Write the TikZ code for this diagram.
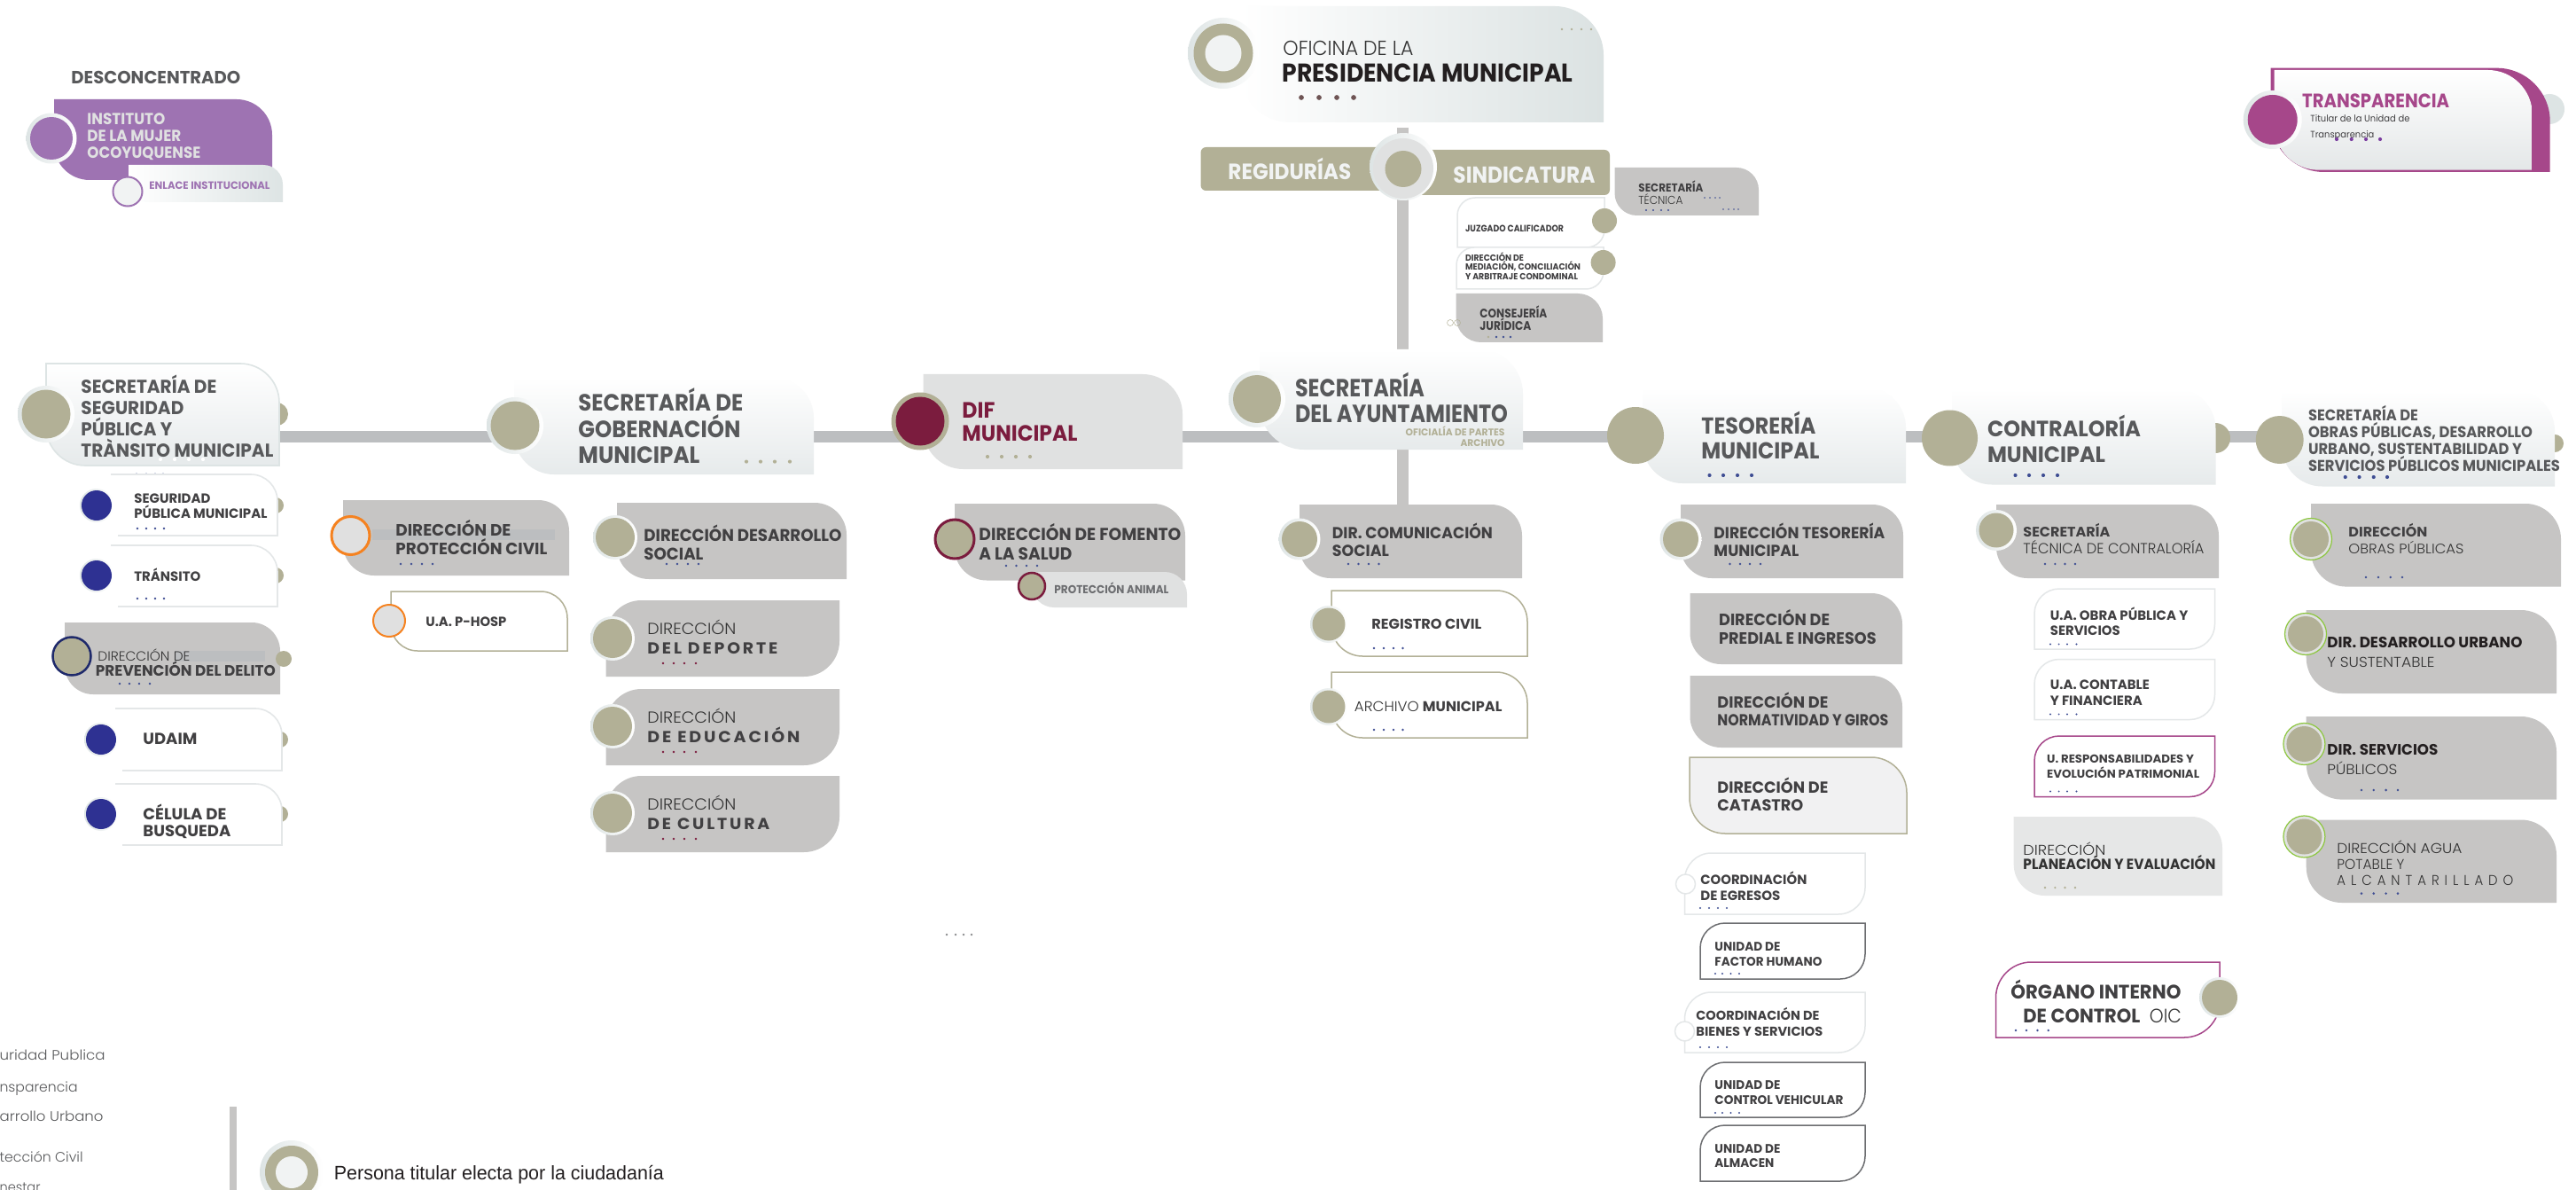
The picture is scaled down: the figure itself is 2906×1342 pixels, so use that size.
\documentclass[tikz,border=0pt]{standalone}
\usepackage{fontspec}
\usepackage{graphicx}
\setmainfont{Poppins}
\newfontfamily\pl{Poppins Light}
\newfontfamily\ps{Poppins}[UprightFont=*-Bold]
\newfontfamily\pll{Poppins Light}[LetterSpace=40]
\newfontfamily\psl{Poppins}[UprightFont=*-Bold,LetterSpace=15]
\newfontfamily\lib{Liberation Sans}
\definecolor{oli}{HTML}{B2B096}
\definecolor{gc}{HTML}{C6C5C4}
\definecolor{barc}{HTML}{BCBEC0}
\definecolor{dk}{HTML}{414042}
\definecolor{sec}{HTML}{58595B}
\definecolor{nearblk}{HTML}{231F20}
\definecolor{pur}{HTML}{9E73B2}
\definecolor{mag}{HTML}{A6478A}
\definecolor{mar}{HTML}{7B1C3E}
\definecolor{navy}{HTML}{2E3192}
\definecolor{dnavy}{HTML}{1F2A6B}
\definecolor{blued}{HTML}{3F4E93}
\definecolor{org}{HTML}{F58220}
\definecolor{grn}{HTML}{8DC63F}
\definecolor{edge}{HTML}{E4E7E8}
\definecolor{halo}{HTML}{DDE4E4}
\definecolor{cardb}{HTML}{E6EAEB}
\definecolor{lg}{HTML}{E0E1E1}
\definecolor{lt}{HTML}{F1F3F3}
\definecolor{presr}{HTML}{DBE2E2}
\definecolor{presd}{HTML}{6E5454}
\definecolor{trb}{HTML}{E4E7E8}
\definecolor{trd}{HTML}{7B3FA0}
\definecolor{ligg}{HTML}{E0E0E0}
\definecolor{anig}{HTML}{6D6E71}
\definecolor{catf}{HTML}{F1F1F2}
\definecolor{plaf}{HTML}{E6E7E7}
\definecolor{pla}{HTML}{333333}
\definecolor{cdot}{HTML}{8A8C8E}
\pgfdeclarelayer{bg}
\pgfsetlayers{bg,main}
\newsavebox\tb
\newcount\tcnt
\newdimen\fsz
\newcommand\mk[3]{\fsz=#1pt \divide\fsz by 2\relax
 \sbox\tb{\pgfinterruptpicture\fontsize{\the\fsz}{\the\fsz}\selectfont #2#3\endpgfinterruptpicture}}
\newcommand\T[6]{\global\advance\tcnt 1\relax
 \mk{#3}{#5}{#6}%
 \pgfmathsetmacro\scf{ifthenelse(#4>0,#4*0.5/(\the\wd\tb),1)}%
 \node[anchor=base west,inner sep=0pt,yshift=-.6pt] (t\the\tcnt) at (#1,#2) {\scalebox{\scf}[1]{\usebox\tb}};}
\newcommand\TR[6]{\global\advance\tcnt 1\relax
 \mk{#3}{#5}{#6}%
 \pgfmathsetmacro\scf{ifthenelse(#4>0,#4*0.5/(\the\wd\tb),1)}%
 \node[anchor=base east,inner sep=0pt,yshift=-.6pt] (t\the\tcnt) at (#1,#2) {\scalebox{\scf}[1]{\usebox\tb}};}
\newcommand\cardA[7]{\path[#6] (#2,#3) -- ({#4-#1},#3) .. controls ({#4-.45*#1},#3) and (#4,{#3+.45*#1}) .. (#4,{#3+#1}) -- (#4,#5) -- ({#2+#1},#5) .. controls ({#2+.45*#1},#5) and (#2,{#5-.45*#1}) .. (#2,{#5-#1}) -- cycle;
 \coordinate (#7) at ({(#2+#4)/2},{(#3+#5)/2});}
\newcommand\cardB[7]{\path[#6] ({#2+#1},#3) -- (#4,#3) -- (#4,{#5-#1}) .. controls (#4,{#5-.45*#1}) and ({#4-.45*#1},#5) .. ({#4-#1},#5) -- (#2,#5) -- (#2,{#3+#1}) .. controls (#2,{#3+.45*#1}) and ({#2+.45*#1},#3) .. ({#2+#1},#3) -- cycle;
 \coordinate (#7) at ({(#2+#4)/2},{(#3+#5)/2});}
\newcommand\openA[6]{\fill[white] (#2,#3) rectangle (#4,#5);
 \draw[edge,line width=.8pt] ({#2+12},#3) -- ({#4-#1},#3) .. controls ({#4-.45*#1},#3) and (#4,{#3+.45*#1}) .. (#4,{#3+#1}) -- (#4,#5) -- ({#2+20},#5);
 \coordinate (#6) at ({(#2+#4)/2},{(#3+#5)/2});}
\newcommand\CC[5]{\node[circle,inner sep=0pt,minimum size=#4pt,#5] (#1) at (#2,#3) {};}
\newcommand\HC[6]{\path[left color=halo,right color=white] (#2,#3) circle (#4);\CC{#1}{#2}{#3}{#5}{fill=#6}}
\newcommand\four[7]{\foreach \xx in {#2,#3,#4,#5} \fill[#7] (\xx,#1) circle ({1.3*#6});}
\tikzset{
 barline/.style={barc,line width=6.5pt},
 vline/.style={gc,line width=6.5pt},
 gcard/.style={fill=gc},
 shv/.style={top color=white,bottom color=cardb},
 thin card/.style={draw=#1,line width=.75pt,fill=white},
}
\newcommand\sd{\ps\color{dk}}
\newcommand\sg{\ps\color{sec}}
\newcommand\ld{\pl\color{pla}}
\begin{document}
\begin{tikzpicture}[x=0.5pt,y=-0.5pt]
\path[use as bounding box] (0,0) rectangle (2906,1342);
\clip (0,0) rectangle (2906,1342);
\coordinate (bary) at (0,492.5);
\coordinate (vt) at (1582.5,144);
\coordinate (vx) at (1582.5,0);

% ---- Desconcentrado
\T{80}{93}{20}{191}{\ps\color{sec}}{DESCONCENTRADO}
\cardA{40}{61}{112}{307}{203}{fill=pur}{cMujer}
\HC{cMu}{58}{156}{28.5}{24}{pur}
\T{98}{139}{18}{88}{\ps\color{lg}}{INSTITUTO}
\T{98}{158}{18}{106}{\ps\color{lg}}{DE LA MUJER}
\T{98}{177}{18}{128}{\ps\color{lg}}{OCOYUQUENSE}
\cardA{22}{145}{186}{319}{228}{left color=white,right color=halo}{cEnl}
\CC{cEn}{144}{216}{16.5}{fill=lt,draw=pur,line width=1pt}
\T{168}{212}{12}{136}{\ps\color{pur}}{ENLACE INSTITUCIONAL}

% ---- Presidencia
\cardA{55}{1400}{7}{1809}{138}{left color=white,right color=presr}{cPresi}
\HC{cPr}{1380}{60}{40}{33.5}{oli}
\CC{cPrI}{1380}{60}{20.5}{fill=lt}
\T{1447}{61}{23}{147}{\ld}{OFICINA DE LA}
\T{1446}{91}{29}{328}{\ps\color{nearblk}}{PRESIDENCIA MUNICIPAL}
\four{110}{1468}{1488}{1508}{1527}{2.2}{fill=presd}
\four{33}{1762}{1773}{1784}{1795}{1}{fill=oli}

% ---- Regidurias / Sindicatura
\fill[oli,rounded corners=3pt] (1354.5,166) rectangle (1570,215);
\fill[oli,rounded corners=3pt] (1590,169) rectangle (1816,220);
\path[left color=halo,right color=white] (1583,188) circle (38);
\CC{cCen}{1583}{190}{34}{fill=lg}
\CC{cCenI}{1583}{190.5}{20.5}{fill=oli}
\T{1385}{201}{25}{139}{\ps\color{lt}}{REGIDURÍAS}
\T{1639}{205}{26}{160}{\ps\color{lt}}{SINDICATURA}

\cardA{25}{1821.5}{189}{1984}{243}{gcard}{cSTec}
\T{1848}{215}{13}{73}{\sd}{SECRETARÍA}
\T{1848}{229}{13}{50}{\ld}{TÉCNICA}
\four{223}{1923}{1929}{1935}{1940}{.7}{fill=blued}
\four{237}{1857}{1865}{1874}{1882}{.9}{fill=blued}
\four{236}{1944}{1950}{1956}{1961}{.7}{fill=blued}

\cardB{20}{1644}{223}{1810}{279}{thin card=edge}{cJuz}
\CC{nJuz}{1810}{249}{14}{fill=oli}
\T{1652.6}{260}{10.5}{111}{\sd}{JUZGADO CALIFICADOR}
\cardB{20}{1643}{279}{1809}{326}{thin card=edge}{cMed}
\CC{nMed}{1808.6}{296}{14}{fill=oli}
\T{1652.6}{293}{10}{66}{\sd}{DIRECCIÓN DE}
\T{1652.6}{303}{10}{130}{\sd}{MEDIACIÓN, CONCILIACIÓN}
\T{1652.6}{314}{10}{127}{\sd}{Y ARBITRAJE CONDOMINAL}
\cardA{28}{1642.6}{331}{1808}{386}{gcard}{cCons}
\draw[oli,line width=.25pt] (1636,364) circle (3.5) (1644,364) circle (3.5);
\T{1669}{357}{14}{76}{\sd}{CONSEJERÍA}
\T{1669}{371}{14}{58}{\sd}{JURÍDICA}
\fill[oli] (1679,380) circle (1.3);
\foreach \xx in {1688,1696,1704} \fill[blued] (\xx,380) circle (1.3);

% ---- Transparencia
\CC{nTr}{2876}{123}{17}{fill=halo}
\cardA{60}{2561.7}{76.7}{2876.7}{194}{fill=mag}{cTrB}
\cardA{50}{2565.7}{79}{2856.7}{191.7}{top color=white,bottom color=trb}{cTrI}
\HC{cTr}{2563.7}{135}{33}{28}{mag}
\T{2596.7}{120}{22}{166}{\ps\color{mag}}{TRANSPARENCIA}
\T{2606}{136.7}{10.5}{112}{\color{dk}}{Titular de la Unidad de}
\T{2606}{154}{10.5}{72}{\color{dk}}{Transparencia}
\four{157}{2636}{2652.7}{2669}{2685}{1.6}{fill=trd}

% ---- Seguridad
\CC{nSeg}{312}{467}{13}{fill=oli}
\cardA{44}{52}{410}{315}{525}{shv,draw=halo,line width=.8pt}{cSeg}
\HC{cSe}{52}{467}{32}{27.5}{oli}
\T{91}{442}{21}{153}{\sg}{SECRETARÍA DE}
\T{91}{466}{21}{116}{\sg}{SEGURIDAD}
\T{91}{490}{21}{103}{\sg}{PÚBLICA Y}
\T{91}{514}{21}{217}{\sg}{TRÀNSITO MUNICIPAL}
\four{518}{181}{197}{213}{229}{1.6}{fill=white}
\four{534.6}{154}{165}{175}{184}{1}{fill=blued}

\CC{nSP}{311}{570}{9}{fill=oli}
\openA{30}{113}{535}{313}{604}{cSP}
\HC{cSp}{109}{570}{19}{17}{navy}
\T{151}{566}{15}{86}{\sd}{SEGURIDAD}
\T{151}{583}{15}{150}{\sd}{PÚBLICA MUNICIPAL}
\four{596}{155}{165}{175}{185}{1}{fill=blued}

\CC{nTra}{311}{649}{9}{fill=oli}
\openA{30}{113}{615}{313}{684}{cTran}
\HC{cTn}{109}{649}{19}{17}{navy}
\T{151}{654}{15}{75}{\sd}{TRÁNSITO}
\four{675}{155}{165}{175}{185}{1}{fill=blued}

\cardA{32}{73}{702}{316}{783}{gcard}{cPrev}
\fill[barc] (197,734) rectangle (299,746);
\CC{nPrev}{320}{743}{9}{fill=oli}
\CC{cPv}{81}{740}{21.5}{fill=oli,draw=dnavy,line width=1.25pt}
\T{110}{744}{15}{104}{\ld}{DIRECCIÓN DE}
\T{107.5}{761}{17}{203}{\sd}{PREVENCIÓN DEL DELITO}
\four{771}{135}{146}{157}{169}{1}{fill=blued}

\CC{nUd}{316}{834}{9}{fill=oli}
\openA{30}{118}{799}{318}{869}{cUd}
\HC{cU}{114}{834}{19}{17}{navy}
\T{161}{838}{18}{61}{\sd}{UDAIM}
\CC{nCe}{316}{918}{9}{fill=oli}
\openA{30}{118}{884}{318}{953}{cCel}
\HC{cC}{114}{918}{19}{17}{navy}
\T{161}{923}{18}{94}{\sd}{CÉLULA DE}
\T{161}{942}{18}{99}{\sd}{BUSQUEDA}

% ---- Proteccion civil
\cardA{35}{387}{564}{642}{649}{gcard}{cPC}
\fill[barc] (420,597) rectangle (626,609);
\CC{cPc}{395.5}{604}{21.5}{fill=ligg,draw=org,line width=1.5pt}
\T{446}{603}{18.5}{130}{\sd}{DIRECCIÓN DE}
\T{446}{624}{18.5}{171}{\sd}{PROTECCIÓN CIVIL}
\four{636}{452}{464}{476}{488}{1.1}{fill=blued}
\cardA{30}{441}{667}{640}{734}{thin card=oli}{cHosp}
\CC{cHo}{439}{700}{18}{fill=ligg,draw=org,line width=1pt}
\T{480}{705}{15}{91}{\sd}{U.A. P-HOSP}

% ---- Gobernacion
\cardA{45}{580}{426}{918}{535}{shv}{cGob}
\HC{cGo}{581}{480}{32}{27.5}{oli}
\T{652}{462}{26.5}{186}{\sg}{SECRETARÍA DE}
\T{652}{492}{26.5}{183}{\sg}{GOBERNACIÓN}
\T{652}{521}{26.5}{137}{\sg}{MUNICIPAL}
\four{520.6}{842}{858}{874}{891}{1.6}{fill=oli}

\cardA{36}{696}{567}{955}{653}{gcard}{cDS}
\HC{cDs}{694}{606}{25}{22}{oli}
\T{726}{609}{19}{223}{\sd}{DIRECCIÓN DESARROLLO}
\T{726}{630}{19}{67}{\sd}{SOCIAL}
\four{636}{752}{764}{776}{788}{1}{fill=blued}

\cardB{40}{683.6}{677}{947}{763}{gcard}{cDep}
\HC{cDe}{691}{720}{25}{22}{oli}
\T{730}{714}{18}{100}{\ld}{DIRECCIÓN}
\T{730}{736}{18}{147}{\psl\color{dk}}{DEL DEPORTE}
\four{748}{748}{760}{772}{785}{1}{fill=mar}
\cardB{40}{683.6}{777}{947}{863}{gcard}{cEdu}
\HC{cEd}{691}{819}{25}{22}{oli}
\T{730}{814}{18}{100}{\ld}{DIRECCIÓN}
\T{730}{836}{18}{172}{\psl\color{dk}}{DE EDUCACIÓN}
\four{848}{748}{760}{772}{785}{1}{fill=mar}
\cardB{40}{683.6}{875}{947}{961}{gcard}{cCul}
\HC{cCu}{691}{917}{25}{22}{oli}
\T{730}{912}{18}{100}{\ld}{DIRECCIÓN}
\T{730}{934}{18}{138}{\psl\color{dk}}{DE CULTURA}
\four{946}{748}{760}{772}{785}{1}{fill=mar}

% ---- DIF
\cardA{45}{1041.6}{422}{1334}{529}{fill=lg}{cDif}
\CC{cDi}{1038}{475}{32.5}{fill=oli}
\CC{cDiI}{1038}{475}{27.5}{fill=mar}
\T{1085}{470}{25}{37}{\ps\color{mar}}{DIF}
\T{1085}{496}{25}{130}{\ps\color{mar}}{MUNICIPAL}
\four{515}{1114}{1130}{1146}{1162}{1.6}{fill=oli}
\cardA{36}{1077}{568}{1337}{654.5}{gcard}{cFom}
\cardA{25}{1164}{645}{1339}{685}{fill=lg}{cAni}
\CC{cFo}{1077}{608}{22}{fill=oli,draw=mar,line width=1.5pt}
\T{1104}{608}{19.5}{228}{\sd}{DIRECCIÓN DE FOMENTO}
\T{1104}{630}{19.5}{105}{\sd}{A LA SALUD}
\four{638}{1135}{1146.5}{1158}{1170}{1}{fill=blued}
\CC{cAn}{1164}{661}{15}{fill=oli,draw=mar,line width=1.25pt}
\T{1189}{668}{13}{129}{\ps\color{anig}}{PROTECCIÓN ANIMAL}

% ---- Ayuntamiento
\cardA{50}{1421}{394}{1718}{507}{shv}{cAyu}
\HC{cAy}{1418}{450}{32}{27}{oli}
\T{1460.6}{446}{28}{146}{\sg}{SECRETARÍA}
\T{1460.6}{475}{28}{240}{\sg}{DEL AYUNTAMIENTO}
\TR{1698}{490}{11}{112}{\ps\color{oli}}{OFICIALÍA DE PARTES}
\TR{1698}{502}{11}{50}{\ps\color{oli}}{ARCHIVO}

\cardA{35}{1466}{569}{1717}{652}{gcard}{cCom}
\HC{cCo}{1466}{608}{23.5}{20}{oli}
\T{1502.5}{606}{18}{181}{\sd}{DIR. COMUNICACIÓN}
\T{1502.5}{626}{18}{64}{\sd}{SOCIAL}
\four{636}{1521}{1532.5}{1544}{1555.5}{1}{fill=blued}
\cardA{35}{1502}{666}{1723}{740}{thin card=oli}{cReC}
\HC{cRe}{1499}{704}{21}{18.5}{oli}
\T{1547}{708}{16}{124}{\sd}{REGISTRO CIVIL}
\four{731}{1550}{1561}{1572}{1582.5}{1}{fill=blued}
\cardA{35}{1502}{758}{1723}{832}{thin card=oli}{cArch}
\HC{cAr}{1499}{797}{21}{18.5}{oli}
\T{1527.5}{801}{16}{73}{\ld}{ARCHIVO}
\T{1604.5}{801}{16}{89.5}{\sd}{MUNICIPAL}
\four{823}{1550}{1561}{1572}{1582.5}{1}{fill=blued}

% ---- Tesoreria
\cardA{45}{1853}{437}{2150}{545}{shv}{cTes}
\CC{cTe}{1845}{491}{32}{fill=oli}
\T{1919}{488}{26}{129}{\sg}{TESORERÍA}
\T{1919}{516}{26}{133}{\sg}{MUNICIPAL}
\four{536}{1928.5}{1944}{1960}{1976}{1.6}{fill=blued}

\cardA{35}{1896}{569}{2147}{652}{gcard}{cDT}
\HC{cDt}{1896}{608}{23.5}{20}{oli}
\T{1933}{606}{18}{193}{\sd}{DIRECCIÓN TESORERÍA}
\T{1933}{626}{18}{96}{\sd}{MUNICIPAL}
\four{636}{1951.5}{1963}{1974}{1986}{1}{fill=blued}
\cardA{35}{1906.5}{669}{2146}{749}{gcard}{cPred}
\T{1938.7}{704}{18.5}{125}{\sd}{DIRECCIÓN DE}
\T{1938.7}{725}{18.5}{177.6}{\sd}{PREDIAL E INGRESOS}
\cardA{35}{1906.5}{762}{2146}{843}{gcard}{cNorm}
\T{1937}{797}{18}{125}{\sd}{DIRECCIÓN DE}
\T{1937}{817}{18}{193}{\sd}{NORMATIVIDAD Y GIROS}
\cardA{40}{1906}{854}{2151}{940}{fill=catf,draw=oli,line width=.75pt}{cCat}
\T{1937}{893}{18}{125}{\sd}{DIRECCIÓN DE}
\T{1937}{913}{18}{97}{\sd}{CATASTRO}

\cardB{30}{1900.5}{962}{2104}{1031}{thin card=edge}{cEgr}
\CC{cEg}{1901.5}{997}{11}{fill=white,draw=edge,line width=.75pt}
\T{1918}{996}{15}{120}{\sd}{COORDINACIÓN}
\T{1918}{1014}{15}{90}{\sd}{DE EGRESOS}
\four{1024}{1918}{1928}{1938}{1948}{.9}{fill=blued}
\cardB{28}{1918}{1041}{2104}{1104}{thin card=anig}{cFH}
\T{1934}{1071}{14}{74}{\sd}{UNIDAD DE}
\T{1934}{1088}{14}{121}{\sd}{FACTOR HUMANO}
\four{1098}{1935}{1943}{1952.5}{1962}{.8}{fill=blued}
\cardB{30}{1900.5}{1119}{2104}{1187}{thin card=edge}{cBie}
\CC{cBi}{1900.5}{1163}{11}{fill=white,draw=edge,line width=.75pt}
\T{1913}{1149}{14.5}{139}{\sd}{COORDINACIÓN DE}
\T{1913}{1167}{14.5}{143}{\sd}{BIENES Y SERVICIOS}
\four{1181}{1918}{1928}{1938}{1948}{.9}{fill=blued}
\cardB{28}{1918}{1198}{2104}{1260}{thin card=anig}{cCV}
\T{1934}{1227}{14}{74}{\sd}{UNIDAD DE}
\T{1934}{1244}{14}{145}{\sd}{CONTROL VEHICULAR}
\four{1255}{1935}{1943}{1952.5}{1962}{.8}{fill=blued}
\cardB{28}{1918}{1269}{2104}{1332}{thin card=anig}{cAlm}
\T{1934}{1299}{14}{74}{\sd}{UNIDAD DE}
\T{1934}{1315}{14}{67}{\sd}{ALMACEN}

% ---- Contraloria
\CC{nCo}{2499}{494}{17}{fill=oli}
\cardA{45}{2202}{438.6}{2499.5}{546.5}{shv}{cCon}
\CC{cCt}{2199.5}{494}{31.5}{fill=oli}
\T{2241.6}{491}{25}{173}{\sg}{CONTRALORÍA}
\T{2241.6}{520}{25}{133}{\sg}{MUNICIPAL}
\four{536}{2273.5}{2289}{2305}{2321}{1.6}{fill=blued}

\cardA{35}{2252}{569}{2503}{652}{gcard}{cSTC}
\HC{cSt}{2252}{598}{23}{19.5}{oli}
\T{2282}{604}{15.5}{98}{\sd}{SECRETARÍA}
\T{2282}{623}{16.5}{204}{\ld}{TÉCNICA DE CONTRALORÍA}
\four{636}{2307}{2318.4}{2329.5}{2341}{1}{fill=blued}
\cardB{28}{2295}{664}{2498.5}{732}{thin card=edge}{cUA1}
\T{2312.4}{698}{15}{155.5}{\sd}{U.A. OBRA PÚBLICA Y}
\T{2312.4}{715}{15}{79}{\sd}{SERVICIOS}
\four{726.5}{2313}{2322.6}{2332}{2342.5}{.8}{fill=blued}
\cardB{28}{2295}{743.5}{2498.5}{811.5}{thin card=edge}{cUA2}
\T{2312.4}{776}{15}{112}{\sd}{U.A. CONTABLE}
\T{2312.4}{794}{15}{104}{\sd}{Y FINANCIERA}
\four{805.5}{2313}{2322.6}{2332}{2342.5}{.8}{fill=blued}
\cardB{28}{2295}{830}{2498.5}{898.5}{thin card=mag}{cUA3}
\T{2308.7}{859}{13}{166}{\sd}{U. RESPONSABILIDADES Y}
\T{2308.7}{876}{13}{172}{\sd}{EVOLUCIÓN PATRIMONIAL}
\four{892.5}{2313}{2322.6}{2332}{2342.5}{.8}{fill=blued}
\cardA{35}{2271.7}{921}{2507}{1010}{fill=plaf}{cPla}
\T{2282}{963}{16}{93}{\ld}{DIRECCIÓN}
\T{2282}{979}{16.5}{217}{\ps\color{pla}}{PLANEACIÓN Y EVALUACIÓN}
\four{1001}{2307}{2318.4}{2329.5}{2341}{1}{fill=oli}

\cardB{40}{2251.5}{1085}{2504}{1170}{thin card=mag}{cOrg}
\HC{cOr}{2504}{1125}{23}{20}{oli}
\T{2268}{1125}{22}{192}{\sd}{ÓRGANO INTERNO}
\T{2282}{1152}{22}{132}{\sd}{DE CONTROL}
\T{2424.5}{1152}{22}{36}{\ld}{OIC}
\four{1162}{2274}{2286}{2298.5}{2310.7}{1.1}{fill=blued}

% ---- Obras
\CC{nOb}{2882}{500}{10}{fill=oli}
\cardA{45}{2574.5}{440.5}{2882}{548.5}{shv}{cObr}
\CC{cOb}{2571.7}{496}{27}{fill=oli}
\T{2603.6}{473}{17.5}{124}{\sg}{SECRETARÍA DE}
\T{2603.6}{492}{17.5}{253}{\sg}{OBRAS PÚBLICAS, DESARROLLO}
\T{2603.6}{511}{17.5}{241}{\sg}{URBANO, SUSTENTABILIDAD Y}
\T{2603.6}{530}{17.5}{284}{\sg}{SERVICIOS PÚBLICOS MUNICIPALES}
\four{538}{2645.7}{2661.5}{2677.7}{2693}{1.6}{fill=blued}

\newcommand\GC[4]{\CC{#1}{#2}{#3}{23.5}{fill=lg,draw=grn,line width=.6pt}\CC{#4}{#2}{#3}{20}{fill=oli}}
\cardA{40}{2607}{568}{2889}{661.6}{gcard}{cD1}
\GC{cd1}{2607}{608}{cd1i}
\T{2649}{604}{15.5}{89}{\sd}{DIRECCIÓN}
\T{2649}{623}{15.5}{130}{\ld}{OBRAS PÚBLICAS}
\four{651}{2669}{2683}{2696.7}{2710}{1.1}{fill=blued}
\cardA{40}{2601.7}{688}{2884}{782}{gcard}{cD2}
\GC{cd2}{2601}{715}{cd2i}
\T{2625}{729}{17}{220}{\ps\color{nearblk}}{DIR. DESARROLLO URBANO}
\T{2625}{751}{16}{121}{\ld}{Y SUSTENTABLE}
\cardA{40}{2601.7}{808}{2884}{901.6}{gcard}{cD3}
\GC{cd3}{2599.4}{839}{cd3i}
\T{2625}{850}{17}{125}{\ps\color{nearblk}}{DIR. SERVICIOS}
\T{2625}{872}{16}{79}{\ld}{PÚBLICOS}
\four{891}{2664}{2677.7}{2691.6}{2705}{1.1}{fill=blued}
\cardA{40}{2601.7}{924.5}{2884}{1018}{gcard}{cD4}
\GC{cd4}{2599.4}{943.5}{cd4i}
\T{2636}{961}{16}{141}{\ld}{DIRECCIÓN AGUA}
\T{2636}{979}{16}{76}{\ld}{POTABLE Y}
\T{2636}{997}{16}{199}{\pll\color{pla}}{ALCANTARILLADO}
\four{1007.6}{2664}{2677.7}{2691.6}{2705}{1.1}{fill=blued}

% ---- centre dots
\four{1054}{1068}{1078}{1087}{1096}{1}{fill=cdot}

% ---- legend
\TR{119}{1194}{15.5}{119}{\pl\color{sec}}{uridad Publica}
\TR{88}{1230}{15.5}{88}{\pl\color{sec}}{nsparencia}
\TR{117}{1263}{15.5}{117}{\pl\color{sec}}{arrollo Urbano}
\TR{94}{1309}{15.5}{94}{\pl\color{sec}}{tección Civil}
\TR{46}{1343}{15.5}{46}{\pl\color{sec}}{nestar}
\fill[gc] (258.7,1248) rectangle (267,1342);
\HC{cLeg}{329}{1322}{36}{30}{oli}
\CC{cLegI}{329}{1322}{18}{fill=lt}
\T{376.5}{1329}{22}{372}{\lib\color{nearblk}}{Persona titular electa por la ciudadanía}

% ---- connectors, behind everything
\begin{pgfonlayer}{bg}
\fill[white] (0,0) rectangle (2906,1342);
\draw[barline] (cSe |- bary) -- (cGo |- bary);
\draw[barline] (cGo |- bary) -- (cDi |- bary);
\draw[barline] (cDi |- bary) -- (cAy |- bary);
\draw[barline] (cAy |- bary) -- (cTe |- bary);
\draw[barline] (cTe |- bary) -- (cCt |- bary);
\draw[barline] (cCt |- bary) -- (cOb |- bary);
\draw[vline] (vt) -- (vx |- cAyu);
\draw[vline] (vx |- cAyu) -- (vx |- cCom);
\end{pgfonlayer}
\end{tikzpicture}
\end{document}
